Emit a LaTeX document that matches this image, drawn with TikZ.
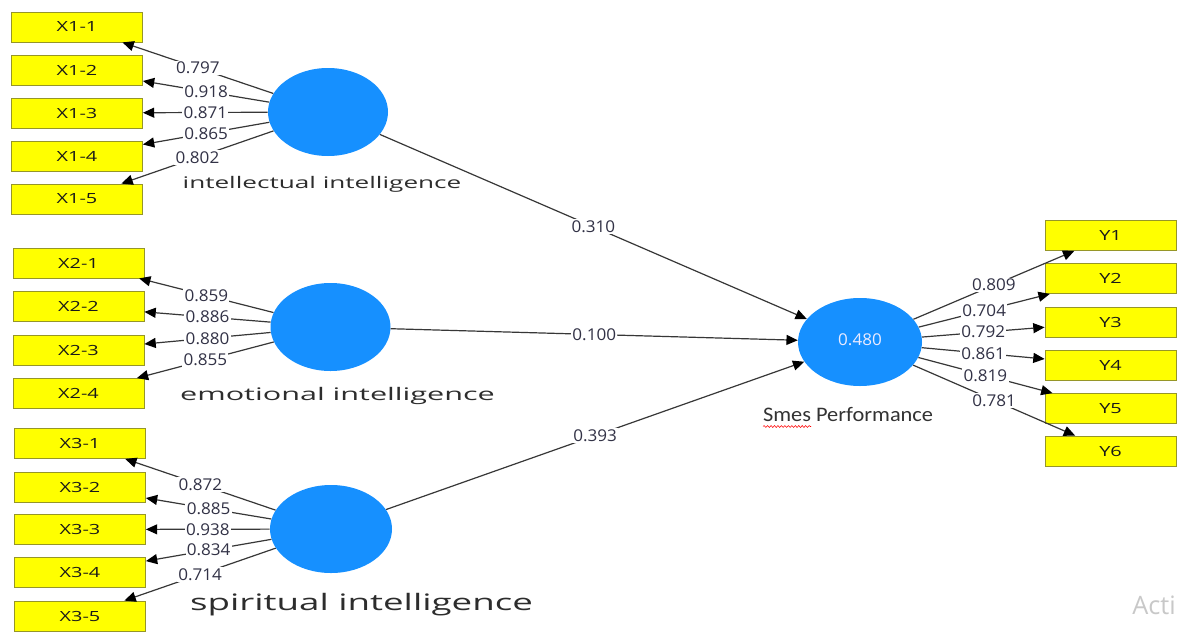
\documentclass[tikz,border=0pt]{standalone}
\usepackage{fontspec}
\usepackage{graphicx}
\setmainfont{Open Sans}
\newfontfamily\carl{Carlito}
\usetikzlibrary{shapes.geometric,arrows.meta,decorations.pathmorphing}
\definecolor{boxedge}{RGB}{150,150,40}
\definecolor{boxfill}{RGB}{255,255,0}
\definecolor{latblue}{RGB}{22,144,255}
\definecolor{linegray}{RGB}{55,55,55}
\definecolor{numc}{RGB}{50,50,70}
\definecolor{labc}{RGB}{45,45,45}
\definecolor{wmark}{RGB}{200,200,200}
\newcommand\bxt[1]{\scalebox{1.42}[1]{#1}}
\newcommand\nmt[1]{\scalebox{1.05}[1]{#1}}
\newcommand\wtxt[2]{\resizebox{#1}{\height}{#2}}
\begin{document}
\begin{tikzpicture}[x=0.75pt,y=-0.75pt,
  ind/.style={draw=boxedge, line width=0.6pt, fill=boxfill, minimum width=98.25pt, minimum height=22.5pt, inner sep=0pt, font=\fontsize{10.5pt}{12pt}\selectfont, text=black!90},
  lat/.style={ellipse, fill=latblue, inner sep=0pt, minimum width=90pt, minimum height=66pt},
  ld/.style={-{Triangle[length=8.5pt,width=7.5pt,color=black]}, draw=linegray, line width=0.9pt},
  val/.style={midway, fill=white, inner sep=1pt, font=\fontsize{12.2pt}{14pt}\selectfont, text=numc},
  lab/.style={anchor=base, inner sep=0pt, text=labc}]
\fill[white] (0,0) rectangle (1177,632);
\useasboundingbox (0,0) rectangle (1177,632);
\begin{scope}
\clip (0,0) rectangle (1177,632);
% indicator boxes
\node[ind] (x11) at (77,27) {\bxt{X1-1}};
\node[ind] (x12) at (77,70) {\bxt{X1-2}};
\node[ind] (x13) at (77,113) {\bxt{X1-3}};
\node[ind] (x14) at (77,156) {\bxt{X1-4}};
\node[ind] (x15) at (77,199) {\bxt{X1-5}};
\node[ind] (x21) at (78.5,263) {\bxt{X2-1}};
\node[ind] (x22) at (78.5,306.5) {\bxt{X2-2}};
\node[ind] (x23) at (78.5,350) {\bxt{X2-3}};
\node[ind] (x24) at (78.5,393.5) {\bxt{X2-4}};
\node[ind] (x31) at (80,443.5) {\bxt{X3-1}};
\node[ind] (x32) at (80,487) {\bxt{X3-2}};
\node[ind] (x33) at (80,529.5) {\bxt{X3-3}};
\node[ind] (x34) at (80,572.5) {\bxt{X3-4}};
\node[ind] (x35) at (80,616) {\bxt{X3-5}};
\node[ind] (y1) at (1110.5,235.5) {\bxt{Y1}};
\node[ind] (y2) at (1110.5,278.5) {\bxt{Y2}};
\node[ind] (y3) at (1110.5,322) {\bxt{Y3}};
\node[ind] (y4) at (1110.5,365) {\bxt{Y4}};
\node[ind] (y5) at (1110.5,408.5) {\bxt{Y5}};
\node[ind] (y6) at (1110.5,451) {\bxt{Y6}};
% latent variables
\node[lat] (c1) at (328,112) {};
\node[lat] (c2) at (330.5,327) {};
\node[lat, minimum width=91.5pt] (c3) at (331,529) {};
\node[lat, minimum width=93pt, text=white!92!blue, font=\fontsize{12.2pt}{14pt}\selectfont] (sp) at (860,342) {\raisebox{3.5pt}{\nmt{0.480}}};
% latent labels
\node[lab, font=\fontsize{12pt}{14pt}\selectfont] (l1) at (322,188) {\wtxt{209pt}{intellectual intelligence}};
\node[lab, font=\fontsize{13pt}{15pt}\selectfont] (l2) at (337.5,400) {\wtxt{236pt}{emotional intelligence}};
\node[lab, font=\fontsize{17pt}{20pt}\selectfont] (l3) at (361.5,610) {\wtxt{257pt}{spiritual intelligence}};
\node[lab, font=\carl\fontsize{15.5pt}{18pt}\selectfont, text=black!80] (l4) at (848,421) {\wtxt{127.5pt}{Smes Performance}};
\draw[red, line width=0.4pt, decorate, decoration={snake, amplitude=0.7pt, segment length=2.6pt}] (763,426.5) -- (811,426.5);
% outer loadings
\draw[ld] (c1) -- node[val]{\nmt{0.797}} (x11);
\draw[ld] (c1) -- node[val]{\nmt{0.918}} (x12);
\draw[ld] (c1) -- node[val]{\nmt{0.871}} (x13);
\draw[ld] (c1) -- node[val]{\nmt{0.865}} (x14);
\draw[ld] (c1) -- node[val]{\nmt{0.802}} (x15);
\draw[ld] (c2) -- node[val]{\nmt{0.859}} (x21);
\draw[ld] (c2) -- node[val]{\nmt{0.886}} (x22);
\draw[ld] (c2) -- node[val]{\nmt{0.880}} (x23);
\draw[ld] (c2) -- node[val]{\nmt{0.855}} (x24);
\draw[ld] (c3) -- node[val]{\nmt{0.872}} (x31);
\draw[ld] (c3) -- node[val]{\nmt{0.885}} (x32);
\draw[ld] (c3) -- node[val]{\nmt{0.938}} (x33);
\draw[ld] (c3) -- node[val]{\nmt{0.834}} (x34);
\draw[ld] (c3) -- node[val]{\nmt{0.714}} (x35);
\draw[ld] (sp) -- node[val]{\nmt{0.809}} (y1);
\draw[ld] (sp) -- node[val]{\nmt{0.704}} (y2);
\draw[ld] (sp) -- node[val]{\nmt{0.792}} (y3);
\draw[ld] (sp) -- node[val]{\nmt{0.861}} (y4);
\draw[ld] (sp) -- node[val]{\nmt{0.819}} (y5);
\draw[ld] (sp) -- node[val]{\nmt{0.781}} (y6);
% path coefficients
\draw[ld] (c1) -- node[val]{\nmt{0.310}} (sp);
\draw[ld] (c2) -- node[val]{\nmt{0.100}} (sp);
\draw[ld] (c3) -- node[val]{\nmt{0.393}} (sp);
% watermark
\node[anchor=base east, inner sep=0pt, text=wmark, font=\fontsize{19pt}{22pt}\selectfont] (wm1) at (1176,614) {Acti};
\end{scope}
\end{tikzpicture}
\end{document}
